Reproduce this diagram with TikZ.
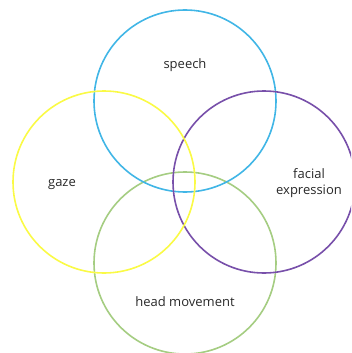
\documentclass[tikz,border=0pt]{standalone}
\usepackage{fontspec}
\setmainfont{Open Sans}
\definecolor{cblue}{RGB}{65,182,230}
\definecolor{cyellow}{RGB}{250,250,70}
\definecolor{cpurple}{RGB}{120,80,170}
\definecolor{cgreen}{RGB}{165,205,130}
\definecolor{ctext}{RGB}{40,40,40}
\tikzset{ring/.style={circle,minimum size=182pt,line width=1.6pt,inner sep=0pt},
lab/.style={text=ctext,font=\fontsize{13pt}{15.5pt}\selectfont,align=center}}
\begin{document}
\begin{tikzpicture}[x=1pt,y=-1pt]
\useasboundingbox (0,0) rectangle (351,353);
\clip (0,0) rectangle (351,353);
\node[ring,draw=cgreen] (head) at (185,263) {};
\node[ring,draw=cblue] (speech) at (185,101) {};
\node[ring,draw=cpurple] (facial) at (264,182) {};
\node[ring,draw=cyellow] (gaze) at (104,182) {};
\node[lab] (tspeech) at (185,65) {speech};
\node[lab] (tgaze) at (62,185) {gaze};
\node[lab] (tfacial) at (309,183) {facial\\expression};
\node[lab] (thead) at (185,302) {head movement};
\end{tikzpicture}
\end{document}
